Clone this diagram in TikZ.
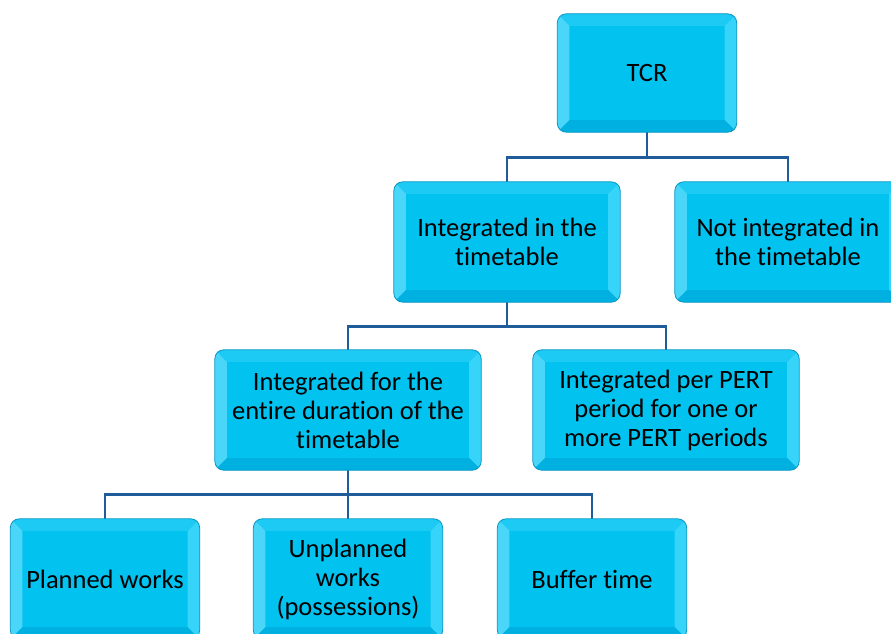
\documentclass[tikz,border=0pt]{standalone}
\usepackage{fontspec}
\setmainfont{Carlito}[Ligatures=NoCommon]
\usetikzlibrary{calc}
\definecolor{boxcyan}{HTML}{02C2EF}
\definecolor{bevtop}{HTML}{1CCAF3}
\definecolor{bevleft}{HTML}{4AD6F8}
\definecolor{bevright}{HTML}{36D4F8}
\definecolor{bevbottom}{HTML}{00B0E0}
\definecolor{boxedge}{HTML}{0896C4}
\definecolor{linkblue}{HTML}{1F5C99}
\tikzstyle{box} = [fill=boxcyan, rounded corners=9pt, text centered, align=center, inner sep=0pt, font=\fontsize{26.5}{29}\selectfont]
\tikzstyle{link} = [draw=linkblue, line width=2.6pt]
\newcommand{\bevel}[1]{%
  \begin{scope}
  \clip[rounded corners=9pt] (#1.north west) rectangle (#1.south east);
  \fill[bevtop] (#1.north west) -- (#1.north east) -- ($(#1.north east)+(-12,12)$) -- ($(#1.north west)+(12,12)$) -- cycle;
  \fill[bevleft] (#1.north west) -- ($(#1.north west)+(12,12)$) -- ($(#1.south west)+(12,-12)$) -- (#1.south west) -- cycle;
  \fill[bevright] (#1.north east) -- ($(#1.north east)+(-12,12)$) -- ($(#1.south east)+(-12,-12)$) -- (#1.south east) -- cycle;
  \fill[bevbottom] (#1.south west) -- ($(#1.south west)+(12,-12)$) -- ($(#1.south east)+(-12,-12)$) -- (#1.south east) -- cycle;
  \end{scope}
  \draw[boxedge, line width=0.8pt, rounded corners=9pt] (#1.north west) rectangle (#1.south east);
}

\begin{document}
\begin{tikzpicture}[x=1pt,y=-1pt]
\useasboundingbox (0,0) rectangle (891,634);
% boxes
\node[box, minimum width=179pt, minimum height=118pt] (tcr) at (647,73) {TCR};
\node[box, minimum width=226pt, minimum height=120pt] (integ) at (507,242) {Integrated in the\\timetable};
\node[box, minimum width=226pt, minimum height=120pt] (notinteg) at (788,242) {Not integrated in\\the timetable};
\node[box, minimum width=266pt, minimum height=120pt] (entire) at (348,410) {Integrated for the\\entire duration of the\\timetable};
\node[box, minimum width=266pt, minimum height=120pt] (pert) at (666,410) {Integrated per PERT\\period for one or\\more PERT periods};
\node[box, minimum width=189pt, minimum height=120pt] (planned) at (105,579) {Planned works};
\node[box, minimum width=189pt, minimum height=120pt] (unplanned) at (348,579) {Unplanned\\works\\(possessions)};
\node[box, minimum width=189pt, minimum height=120pt] (buffer) at (592,579) {Buffer time};
% connectors
\draw[link] (tcr.south) -- ++(0,25) -| (integ.north);
\draw[link] (tcr.south) -- ++(0,25) -| (notinteg.north);
\draw[link] (integ.south) -- ++(0,24) -| (entire.north);
\draw[link] (integ.south) -- ++(0,24) -| (pert.north);
\draw[link] (entire.south) -- ++(0,24) -| (planned.north);
\draw[link] (entire.south) -- (unplanned.north);
\draw[link] (entire.south) -- ++(0,24) -| (buffer.north);
% bevels
\bevel{tcr}
\bevel{integ}
\bevel{notinteg}
\bevel{entire}
\bevel{pert}
\bevel{planned}
\bevel{unplanned}
\bevel{buffer}
\end{tikzpicture}
\end{document}
